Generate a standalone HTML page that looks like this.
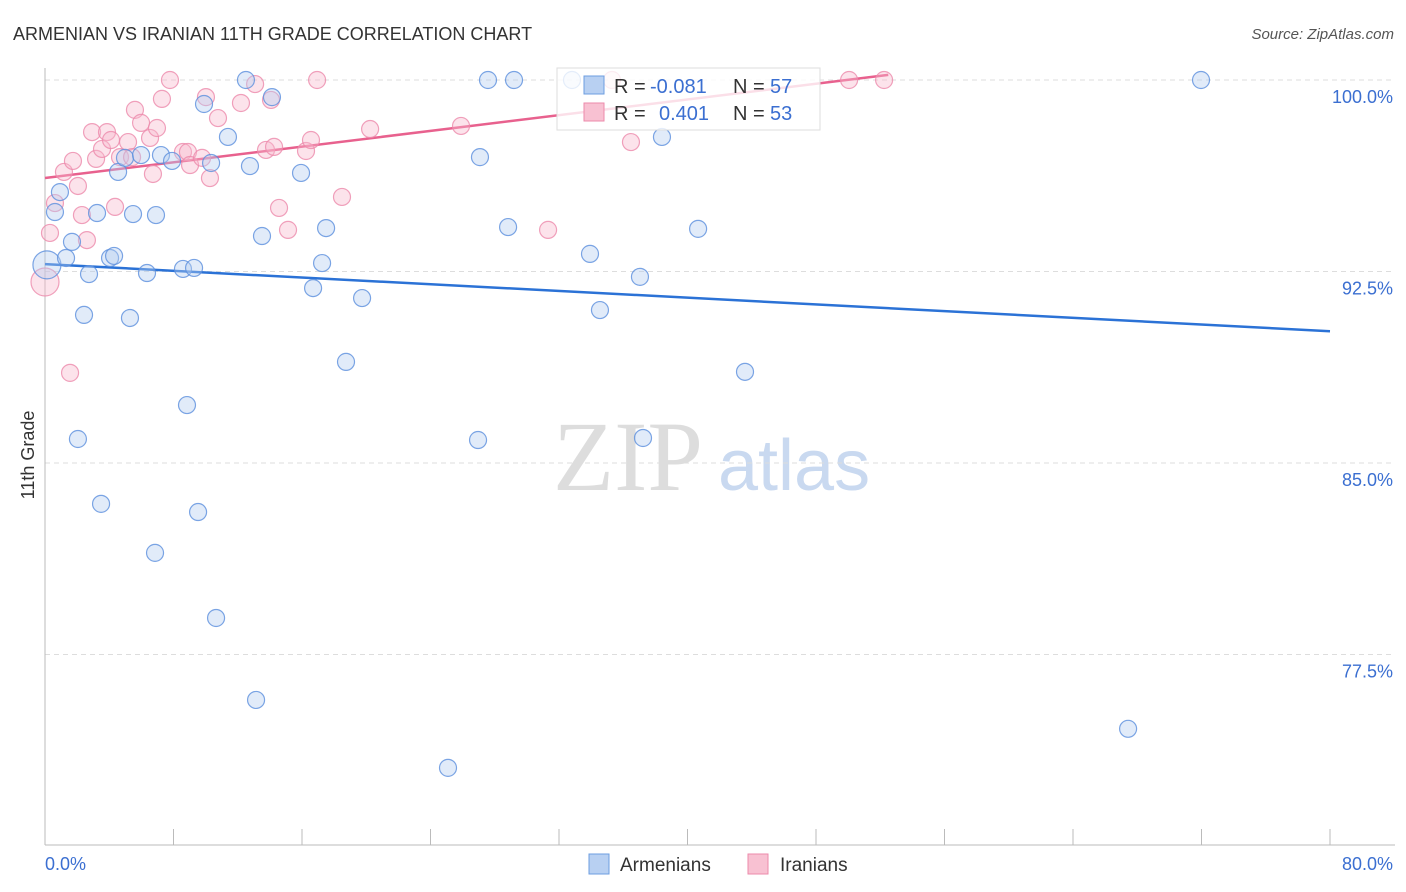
<!DOCTYPE html>
<html><head><meta charset="utf-8"><style>
body{margin:0;background:#fff;font-family:"Liberation Sans",sans-serif;}
svg{display:block}
</style></head><body>
<svg id="chart" width="1406" height="892">
<text x="13" y="40" font-size="18" fill="#333">ARMENIAN VS IRANIAN 11TH GRADE CORRELATION CHART</text>
<text x="1394" y="39" font-size="15" fill="#555" font-style="italic" text-anchor="end">Source: ZipAtlas.com</text>
<text x="34" y="455" font-size="18" fill="#333" text-anchor="middle" transform="rotate(-90 34 455)">11th Grade</text>
<g>
<text x="553" y="490" font-size="100" font-family="Liberation Serif,serif" fill="#ddd">ZIP</text>
<text x="718" y="490" font-size="72" fill="#c9d9f0">atlas</text>
</g>
<g id="grid"></g><g id="axes"></g><g id="lines"></g><g id="pts"></g>
<g>
<rect x="557" y="68" width="263" height="62" fill="#fff" fill-opacity="0.8" stroke="#ddd"/>
<rect x="584" y="76" width="20" height="18" fill="#b8d0f2" stroke="#6d9ee0"/>
<rect x="584" y="103" width="20" height="18" fill="#f8c1d2" stroke="#ec8aab"/>
<text x="614" y="93" font-size="20" fill="#333">R = </text><text x="650" y="93" font-size="20" fill="#3b6fd1">-0.081</text>
<text x="733" y="93" font-size="20" fill="#333">N = </text><text x="770" y="93" font-size="20" fill="#3b6fd1">57</text>
<text x="614" y="120" font-size="20" fill="#333">R = </text><text x="659" y="120" font-size="20" fill="#3b6fd1">0.401</text>
<text x="733" y="120" font-size="20" fill="#333">N = </text><text x="770" y="120" font-size="20" fill="#3b6fd1">53</text>
</g>
<g>
<rect x="589" y="854" width="20" height="20" fill="#b8d0f2" stroke="#6d9ee0"/>
<text x="620" y="871" font-size="19" fill="#333">Armenians</text>
<rect x="748" y="854" width="20" height="20" fill="#f8c1d2" stroke="#ec8aab"/>
<text x="780" y="871" font-size="19" fill="#333">Iranians</text>
</g>
</svg>
<script>
const blueX=[0.12,0.62,0.93,1.31,1.68,2.43,2.74,3.24,3.49,2.05,4.05,4.30,4.55,4.98,5.29,5.48,5.98,6.35,6.85,6.91,7.22,7.91,8.59,8.84,9.28,9.53,9.90,10.34,10.65,11.39,12.51,12.76,13.14,13.51,14.13,15.94,16.69,17.25,17.50,18.74,19.74,25.09,26.96,27.08,27.58,28.83,29.20,32.81,33.93,34.55,37.04,37.23,38.41,40.66,43.58,67.43,71.97];
const blueY=[92.76,94.83,95.61,93.03,93.66,90.80,92.40,94.79,83.40,85.94,93.03,93.11,96.40,96.95,90.68,94.75,97.06,92.44,81.48,94.71,97.06,96.83,92.60,87.27,92.64,83.08,99.06,96.75,78.93,97.77,100,96.63,75.72,93.89,99.33,96.36,91.85,92.83,94.20,88.96,91.46,73.06,85.90,96.98,100,94.24,100,100,93.19,90.99,92.29,85.98,97.77,94.17,88.57,74.59,100];
const pinkX=[0,0.31,0.62,1.18,1.56,1.74,2.05,2.30,2.61,2.93,3.18,3.55,3.86,4.11,4.36,4.67,5.17,5.42,5.60,5.98,6.54,6.72,6.97,7.28,7.78,8.59,8.90,9.03,9.78,10.02,10.27,10.77,12.20,13.08,13.76,14.07,14.26,14.57,15.13,16.25,16.56,16.94,18.49,20.24,25.90,31.32,35.30,36.48,50.06,52.24];
const pinkY=[92.09,94.01,95.18,96.40,88.53,96.83,95.85,94.71,93.73,97.96,96.91,97.30,97.96,97.65,95.03,96.98,97.57,96.98,98.83,98.32,97.73,96.32,98.12,99.26,100,97.18,97.18,96.67,96.95,99.33,96.16,98.51,99.10,99.84,97.26,99.22,97.38,94.99,94.13,97.22,97.65,100,95.42,98.08,98.20,94.13,100,97.57,100,100];
const blueTrend=[[0,92.79],[80,90.16]];
const pinkTrend=[[0,96.16],[52.5,100.2]];
const yTicks=[100,92.5,85,77.5];
const yTickLabels=["100.0%","92.5%","85.0%","77.5%"];
const xAxisLabels=["0.0%","80.0%"];
const sx=v=>45+v/80*1285;
const sy=v=>80+(100-v)/7.5*191.5;
const NS="http://www.w3.org/2000/svg";
function mk(tag,attrs,parent){const e=document.createElementNS(NS,tag);for(const k in attrs)e.setAttribute(k,attrs[k]);parent.appendChild(e);return e;}
const grid=document.getElementById('grid'),axes=document.getElementById('axes');
yTicks.forEach((t,i)=>{
 const l=mk('line',{x1:45,x2:1395,y1:sy(t),y2:sy(t),stroke:'#ddd','stroke-dasharray':'5,4'},grid);
 
 
 const tx=mk('text',{x:1393,y:sy(t)+23,'font-size':18,fill:'#3b6fd1','text-anchor':'end'},axes);
 tx.textContent=yTickLabels[i];
 
 
});
const ax=mk('line',{x1:45,x2:1395,y1:845,y2:845,stroke:'#bbb'},axes);


const ay=mk('line',{x1:45,x2:45,y1:68,y2:845,stroke:'#bbb'},axes);


for(let i=0;i<=10;i++){
 const t=mk('line',{x1:sx(i*8),x2:sx(i*8),y1:829,y2:845,stroke:'#bbb'},axes);
 
 
}
const xl0=mk('text',{x:45,y:870,'font-size':18,fill:'#3b6fd1'},axes);xl0.textContent=xAxisLabels[0];


const xl1=mk('text',{x:1393,y:870,'font-size':18,fill:'#3b6fd1','text-anchor':'end'},axes);xl1.textContent=xAxisLabels[1];


const pts=document.getElementById('pts');
function dots(X,Y,fill,stroke,name){X.forEach((x,i)=>{
 const r=(x<0.2)?14:8.5;
 const c=mk('circle',{cx:sx(x),cy:sy(Y[i]),r:r,fill:fill,'fill-opacity':0.4,stroke:stroke,'stroke-opacity':0.8,'stroke-width':1.2},pts);
 
 
});}
dots(pinkX,pinkY,'#f8b8cc','#ec8aab','iranian-point');
dots(blueX,blueY,'#b4cdf0','#5b8fdd','armenian-point');
const lines=document.getElementById('lines');
const bl=mk('line',{x1:sx(blueTrend[0][0]),y1:sy(blueTrend[0][1]),x2:sx(blueTrend[1][0]),y2:sy(blueTrend[1][1]),stroke:'#2b72d6','stroke-width':2.5},lines);


const pl=mk('line',{x1:sx(pinkTrend[0][0]),y1:sy(pinkTrend[0][1]),x2:sx(pinkTrend[1][0]),y2:sy(pinkTrend[1][1]),stroke:'#e8618e','stroke-width':2.5},lines);


</script>
</body></html>
